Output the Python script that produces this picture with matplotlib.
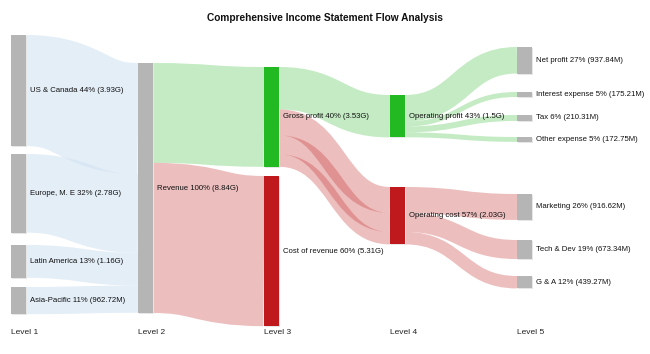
import numpy as np
import matplotlib.pyplot as plt
from matplotlib.path import Path
from matplotlib.patches import PathPatch, Rectangle

plt.rcParams['font.family'] = ['Liberation Sans', 'DejaVu Sans']

# nodes: name, value (G), level, label
node_names = ['US & Canada', 'Europe, M. E', 'Latin America', 'Asia-Pacific',
              'Revenue', 'Gross profit', 'Cost of revenue',
              'Operating profit', 'Operating cost',
              'Net profit', 'Interest expense', 'Tax', 'Other expense',
              'Marketing', 'Tech & Dev', 'G & A']
node_values = [3.93, 2.78, 1.16, 0.96272,
               8.84, 3.53, 5.31,
               1.50, 2.03,
               0.93784, 0.17521, 0.21031, 0.17275,
               0.91662, 0.67334, 0.43927]
node_levels = [0, 0, 0, 0, 1, 2, 2, 3, 3, 4, 4, 4, 4, 4, 4, 4]
node_pct = [44, 32, 13, 11, 100, 40, 60, 43, 57, 27, 5, 6, 5, 26, 19, 12]
node_amount = ['3.93G', '2.78G', '1.16G', '962.72M', '8.84G', '3.53G', '5.31G',
               '1.5G', '2.03G', '937.84M', '175.21M', '210.31M', '172.75M',
               '916.62M', '673.34M', '439.27M']
node_kind = ['grey'] * 5 + ['green', 'red', 'green', 'red'] + ['grey'] * 7

# links: source, target, value (the gross -> op cost band is made of its three parts)
link_src = [0, 1, 2, 3, 4, 4, 5, 5, 5, 5, 7, 7, 7, 7, 8, 8, 8]
link_dst = [4, 4, 4, 4, 5, 6, 7, 8, 8, 8, 9, 10, 11, 12, 13, 14, 15]
link_val = [3.93, 2.78, 1.16, 0.96272, 3.53, 5.31, 1.50,
            0.91662, 0.67334, 0.43927,
            0.93784, 0.17521, 0.21031, 0.17275,
            0.91662, 0.67334, 0.43927]
link_kind = ['blue'] * 4 + ['green', 'red', 'green', 'red', 'red', 'red'] + \
            ['green'] * 4 + ['red'] * 3

level_names = ['Level 1', 'Level 2', 'Level 3', 'Level 4', 'Level 5']

# layout (pixels)
level_x = [11, 138, 264, 390, 517]
node_top = [35, 154, 245, 287, 63, 67, 176, 95, 187, 47, 92, 115, 137, 194, 240, 276]
node_w = 15
scale = 250 / 8.84

node_colors = {'grey': '#b5b5b5', 'green': '#22b922', 'red': '#bf191d'}
link_colors = {'blue': '#d2e3f3', 'green': '#4cc44c', 'red': '#c83a3a'}
link_alpha = {'blue': 0.6, 'green': 0.33, 'red': 0.33}

fig = plt.figure(figsize=(6.5, 3.54), dpi=100)
ax = fig.add_axes([0, 0, 1, 1])
ax.set_xlim(0, 650)
ax.set_ylim(354, 0)
ax.axis('off')

# links, drawn as thick strokes like a d3 sankey
out_off = [0.0] * len(node_names)
in_off = [0.0] * len(node_names)
for s, d, v, k in zip(link_src, link_dst, link_val, link_kind):
    h = v * scale
    y0 = node_top[s] + out_off[s] + h / 2
    y1 = node_top[d] + in_off[d] + h / 2
    out_off[s] += h
    in_off[d] += h
    x0 = level_x[node_levels[s]] + node_w
    x1 = level_x[node_levels[d]]
    xm = (x0 + x1) / 2
    path = Path([(x0, y0), (xm, y0), (xm, y1), (x1, y1)],
                [Path.MOVETO, Path.CURVE4, Path.CURVE4, Path.CURVE4])
    ax.add_patch(PathPatch(path, facecolor='none', edgecolor=link_colors[k],
                           lw=h * 72 / 100, alpha=link_alpha[k], capstyle='butt'))

# nodes and labels
for i, name in enumerate(node_names):
    x = level_x[node_levels[i]]
    h = node_values[i] * scale
    ax.add_patch(Rectangle((x + 1, node_top[i] + 1), node_w, h,
                           facecolor='#e6e6e6', edgecolor='none'))
    ax.add_patch(Rectangle((x, node_top[i]), node_w, h,
                           facecolor=node_colors[node_kind[i]], edgecolor='none'))
    ax.text(x + node_w + 4, node_top[i] + h / 2,
            f'{name} {node_pct[i]}% ({node_amount[i]})',
            fontsize=5.6, color='#111111', va='center', ha='left')

for x, name in zip(level_x, level_names):
    ax.text(x, 333, name, fontsize=6.0, color='#222222', va='center', ha='left')

ax.text(325, 18, 'Comprehensive Income Statement Flow Analysis',
        fontsize=7.3, fontweight='bold', ha='center', va='center', color='#111111')

fig.savefig('out.png', dpi=100)
